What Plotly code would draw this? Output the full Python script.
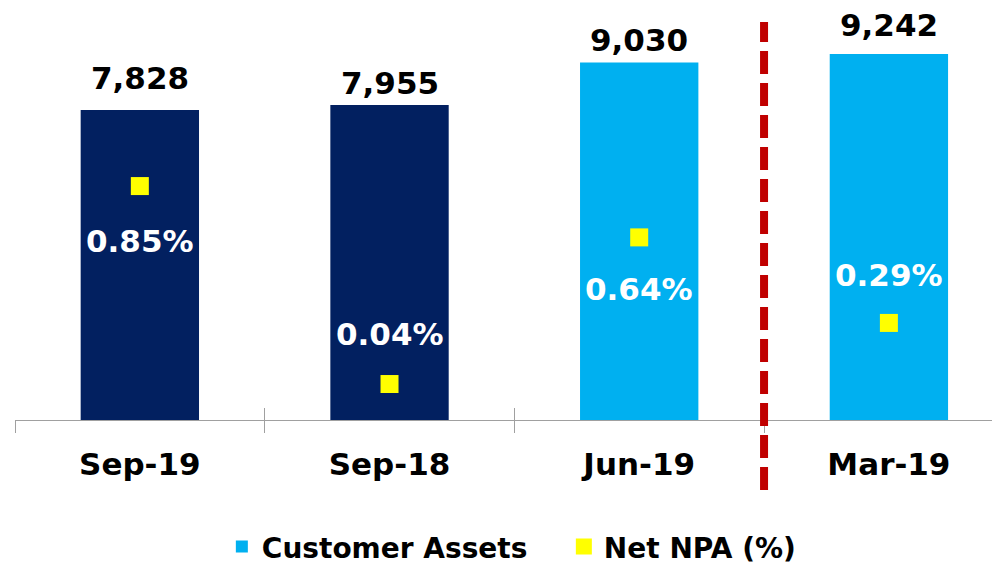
import plotly.graph_objects as go

categories = ["Sep-19", "Sep-18", "Jun-19", "Mar-19"]
customer_assets = [7828, 7955, 9030, 9242]
net_npa = [0.85, 0.04, 0.64, 0.29]
period_group = ["yoy", "yoy", "qoq", "qoq"]

NAVY = "#022060"
BLUE = "#00B0F0"
YELLOW = "#FFFF00"
RED = "#C00000"
FONT = "DejaVu Sans"
AXIS_GREY = "#A0A0A0"

value_shift = [32, 22, 22, 29]
npa_shift = [-55, 50, -52, 48]

fig = go.Figure()

navy_idx = [i for i, g in enumerate(period_group) if g == "yoy"]
blue_idx = [i for i, g in enumerate(period_group) if g == "qoq"]

fig.add_trace(go.Bar(
    x=[categories[i] for i in navy_idx],
    y=[customer_assets[i] for i in navy_idx],
    marker=dict(color=NAVY, line=dict(width=0)),
    width=0.474, showlegend=False, name="Customer Assets",
    hoverinfo="skip",
))
fig.add_trace(go.Bar(
    x=[categories[i] for i in blue_idx],
    y=[customer_assets[i] for i in blue_idx],
    marker=dict(color=BLUE, line=dict(width=0)),
    width=0.474, name="Customer Assets",
))
fig.add_trace(go.Scatter(
    x=categories, y=net_npa, yaxis="y2", mode="markers",
    marker=dict(symbol="square", size=18, color=YELLOW, line=dict(width=0)),
    name="Net NPA (%)",
))
# invisible helper on the second x axis (tick marks pointing upward)
fig.add_trace(go.Scatter(
    x=categories, y=net_npa, xaxis="x2", yaxis="y2", mode="markers",
    marker=dict(opacity=0), showlegend=False, hoverinfo="skip",
))

annotations = []
for i, (c, v) in enumerate(zip(categories, customer_assets)):
    annotations.append(dict(
        x=c, y=v, xref="x", yref="y", text=f"{v:,}", showarrow=False,
        yanchor="middle", yshift=value_shift[i],
        font=dict(family=FONT, size=31, color="black", weight="bold"),
    ))
for i, (c, v) in enumerate(zip(categories, net_npa)):
    annotations.append(dict(
        x=c, y=v, xref="x", yref="y2", text=f"{v:.2f}%", showarrow=False,
        yanchor="middle", yshift=npa_shift[i],
        font=dict(family=FONT, size=31, color="white", weight="bold"),
    ))

divider_x = len(navy_idx) + 0.5

xr = [-0.5, 3.445]
fig.update_layout(
    width=992, height=556,
    margin=dict(l=7, r=0, t=0, b=144, autoexpand=False),
    paper_bgcolor="white", plot_bgcolor="white",
    barmode="overlay",
    xaxis=dict(
        type="category", categoryorder="array", categoryarray=categories,
        range=xr, automargin=False,
        showline=True, linecolor=AXIS_GREY, linewidth=1,
        ticks="outside", tickson="boundaries", ticklen=12, tickcolor=AXIS_GREY,
        showgrid=False, zeroline=False, ticklabelstandoff=17,
        tickfont=dict(family=FONT, size=31, color="black", weight="bold"),
    ),
    xaxis2=dict(
        type="category", categoryorder="array", categoryarray=categories,
        range=xr, overlaying="x", anchor="y2", side="bottom",
        automargin=False,
        showline=False, ticks="inside", tickson="boundaries", ticklen=12,
        tickcolor=AXIS_GREY, showticklabels=True,
        tickfont=dict(color="rgba(0,0,0,0)", size=10),
        showgrid=False, zeroline=False,
    ),
    yaxis=dict(range=[0, 10404], visible=False, showgrid=False, zeroline=False),
    yaxis2=dict(range=[-0.1072, 1.5786], overlaying="y", visible=False,
                showgrid=False, zeroline=False),
    legend=dict(
        orientation="h", x=0.210, xanchor="left", y=-0.308, yanchor="middle",
        font=dict(family=FONT, size=28, color="black", weight="bold"),
        traceorder="normal", entrywidth=297, entrywidthmode="pixels",
    ),
    annotations=annotations,
    shapes=[dict(
        type="line", xref="x", yref="paper", x0=divider_x, x1=divider_x,
        y0=-0.170, y1=0.966, line=dict(color=RED, width=8, dash="23px,9px"),
        layer="above",
    )],
    showlegend=True,
)

fig.write_html("out.html")
